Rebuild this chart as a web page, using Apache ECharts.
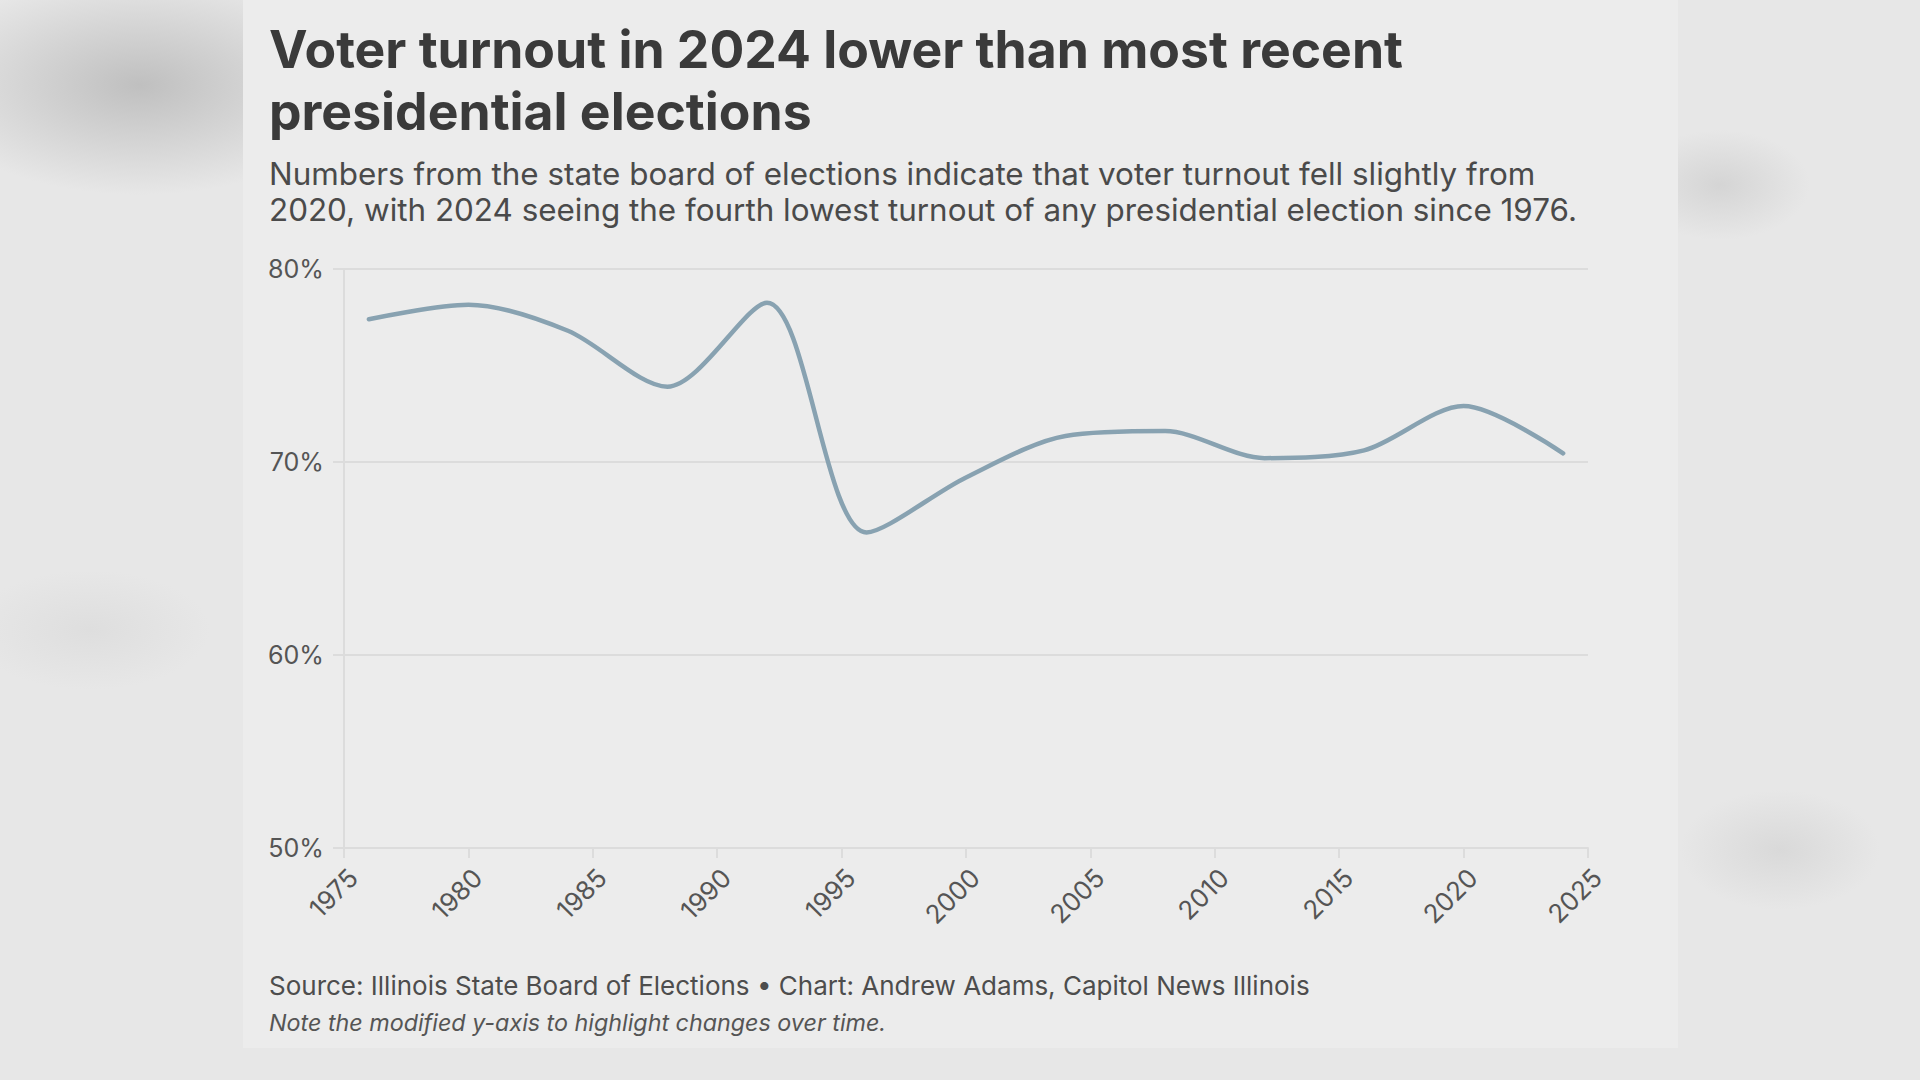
<!DOCTYPE html>
<html>
<head>
<meta charset="utf-8">
<script src="https://cdn.jsdelivr.net/npm/echarts@6/dist/echarts.min.js"></script>
<style>
  html, body { margin: 0; padding: 0; width: 1920px; height: 1080px; overflow: hidden; }
  body {
    background:
      radial-gradient(ellipse 220px 110px at 140px 85px, rgba(165,165,165,0.6), rgba(165,165,165,0) 100%),
      radial-gradient(ellipse 90px 55px at 1720px 185px, rgba(190,190,190,0.45), rgba(190,190,190,0) 100%),
      radial-gradient(ellipse 100px 60px at 1780px 850px, rgba(200,200,200,0.45), rgba(200,200,200,0) 100%),
      radial-gradient(ellipse 120px 60px at 90px 630px, rgba(205,205,205,0.35), rgba(205,205,205,0) 100%),
      #e7e7e7;
  }
  #panel { position: absolute; left: 243px; top: 0; width: 1435px; height: 1048px; background: #ececec; }
  #chart { position: absolute; left: 0; top: 0; width: 1920px; height: 1080px; }
</style>
</head>
<body>
<div id="panel"></div>
<div id="chart"></div>
<script>
// Data (Illinois presidential election turnout, %)
const years = [1976, 1980, 1984, 1988, 1992, 1996, 2000, 2004, 2008, 2012, 2016, 2020, 2024];
const turnout = [77.4, 78.15, 76.8, 73.9, 78.25, 66.35, 69.2, 71.35, 71.6, 70.2, 70.6, 72.9, 70.45];
const yTicks = [50, 60, 70, 80];
const xTickYears = [1975, 1980, 1985, 1990, 1995, 2000, 2005, 2010, 2015, 2020, 2025];

const titleLines = ['Voter turnout in 2024 lower than most recent', 'presidential elections'];
const subtitleLines = ['Numbers from the state board of elections indicate that voter turnout fell slightly from',
  '2020, with 2024 seeing the fourth lowest turnout of any presidential election since 1976.'];
const sourceText = 'Source: Illinois State Board of Elections \u2022 Chart: Andrew Adams, Capitol News Illinois';
const noteText = 'Note the modified y-axis to highlight changes over time.';

const FAMILY = 'Inter';
const FONT = 'Inter, "Open Sans", sans-serif';
// pick a font size so that a text spans a given width
const ctx = document.createElement('canvas').getContext('2d');
function fitSize(text, width, weight, style) {
  ctx.font = (style || 'normal') + ' ' + (weight || 'normal') + ' 100px ' + FAMILY;
  return Math.round(100 * width / ctx.measureText(text).width * 10) / 10;
}
const titleSize = fitSize(titleLines[0], 1134, 'bold');
const subSize = fitSize(subtitleLines[1], 1308, 'normal');
const srcSize = fitSize(sourceText, 1040, 'normal');
const noteSize = fitSize(noteText, 616, 'normal', 'italic');
const yLabSize = fitSize('80%', 56, 'normal');
const xLabSize = fitSize('1975', 56, 'normal');

const chart = echarts.init(document.getElementById('chart'), null, { renderer: 'svg' });

chart.setOption({
  animation: false,
  backgroundColor: 'transparent',
  title: [
    { text: titleLines.join('\n'), left: 269, top: 18, padding: 0,
      textStyle: { fontFamily: FONT, fontSize: titleSize, fontWeight: 'bold', color: '#3a3a3a', lineHeight: 62 } },
    { text: subtitleLines.join('\n'), left: 269, top: 156, padding: 0,
      textStyle: { fontFamily: FONT, fontSize: subSize, fontWeight: 'normal', color: '#4a4a4a', lineHeight: 36 } },
    { text: sourceText, left: 269, top: 970, padding: 0,
      textStyle: { fontFamily: FONT, fontSize: srcSize, fontWeight: 'normal', color: '#4d4d4d', lineHeight: 30 } },
    { text: noteText, left: 269, top: 1008, padding: 0,
      textStyle: { fontFamily: FONT, fontSize: noteSize, fontWeight: 'normal', fontStyle: 'italic', color: '#555', lineHeight: 28 } }
  ],
  grid: { left: 344, right: 332, top: 269, bottom: 232, containLabel: false },
  xAxis: {
    type: 'value',
    min: xTickYears[0],
    max: xTickYears[xTickYears.length - 1],
    interval: 5,
    axisLine: { show: true, lineStyle: { color: '#dcdcdc', width: 2 } },
    axisTick: { show: true, length: 10, lineStyle: { color: '#dcdcdc', width: 2 } },
    splitLine: { show: false },
    axisLabel: {
      rotate: 45, align: 'right', verticalAlign: 'top', lineHeight: xLabSize, margin: 16,
      fontFamily: FONT, fontSize: xLabSize, color: '#555',
      formatter: v => String(v)
    }
  },
  yAxis: {
    type: 'value',
    min: yTicks[0],
    max: yTicks[yTicks.length - 1],
    interval: 10,
    axisLine: { show: true, lineStyle: { color: '#dcdcdc', width: 2 } },
    axisTick: { show: true, length: 11, lineStyle: { color: '#dcdcdc', width: 2 } },
    splitLine: { show: true, lineStyle: { color: '#dcdcdc', width: 2 } },
    axisLabel: { margin: 20, fontFamily: FONT, fontSize: yLabSize, color: '#555', formatter: '{value}%' }
  },
  series: [{
    type: 'line',
    data: years.map((y, i) => [y, turnout[i]]),
    smooth: 0.3,
    showSymbol: false,
    lineStyle: { color: '#88a2b1', width: 4.5, cap: 'round' },
    z: 3
  }]
});
</script>
</body>
</html>
